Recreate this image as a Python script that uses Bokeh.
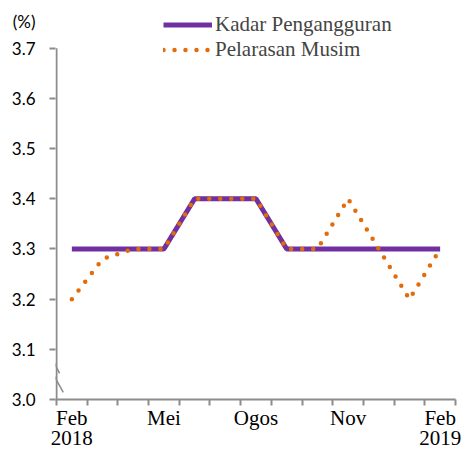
from bokeh.plotting import figure
from bokeh.models import FixedTicker, Range1d, Legend, LegendItem, Arrow
from bokeh.embed import file_html
from bokeh.resources import INLINE

months = ["Feb 2018", "Mac", "Apr", "Mei", "Jun", "Jul", "Ogos", "Sep", "Okt", "Nov", "Dis", "Jan", "Feb 2019"]
kadar = [3.3, 3.3, 3.3, 3.3, 3.4, 3.4, 3.4, 3.3, 3.3, 3.3, 3.3, 3.3, 3.3]
pelarasan = [3.2, 3.28, 3.3, 3.3, 3.4, 3.4, 3.4, 3.3, 3.3, 3.4, 3.3, 3.2, 3.3]
x_label_pos = [0, 3, 6, 9, 12]
x_label_text = ["Feb\n2018", "Mei", "Ogos", "Nov", "Feb\n2019"]
y_ticks = [3.0, 3.1, 3.2, 3.3, 3.4, 3.5, 3.6, 3.7]
unit_label = "(%)"

xs = list(range(len(months)))
SERIF = "Liberation Serif"
SANS = "Lato"
PURPLE = "#7030A0"
ORANGE = "#E36C0A"
GRAY = "#8C8C8C"

# layout (pixels)
W, H = 465, 452
LEFT, RIGHT, BOTTOM = 55, 10, 51
Y_TOP_PX = 48          # pixel row of the top tick
frame_h = H - BOTTOM
px_per_unit = (frame_h - Y_TOP_PX) / (y_ticks[-1] - y_ticks[0])
y_end = y_ticks[0] + frame_h / px_per_unit
frame_w = W - LEFT - RIGHT
x_end = len(months) - 0.5
x_start = x_end - (len(months)) * frame_w / (frame_w - 1)
unit_pos = y_ticks[0] + (frame_h - 21) / px_per_unit

p = figure(width=W, height=H, output_backend="svg", toolbar_location=None,
           x_range=Range1d(x_start, x_end), y_range=Range1d(y_ticks[0], y_end),
           min_border_left=LEFT, min_border_right=RIGHT, min_border_top=0, min_border_bottom=BOTTOM)
p.outline_line_color = None
p.grid.grid_line_color = None
p.background_fill_color = "white"

# y axis rule (only up to the top tick)
p.segment(x0=[-0.5], y0=[y_ticks[0]], x1=[-0.5], y1=[y_ticks[-1]], line_color=GRAY, line_width=2)

r1 = p.line(xs, kadar, line_color=PURPLE, line_width=5)
r2 = p.line(xs, pelarasan, line_color=ORANGE, line_width=4.5, line_dash="0 11", line_cap="round")

# x axis
xa = p.xaxis[0]
xa.ticker = FixedTicker(ticks=x_label_pos, minor_ticks=[i - 0.5 for i in range(len(months) + 1)])
xa.major_label_overrides = {k: v for k, v in zip(x_label_pos, x_label_text)}
xa.major_tick_in = 0
xa.major_tick_out = 0
xa.minor_tick_in = 0
xa.minor_tick_out = 6
xa.minor_tick_line_color = GRAY
xa.minor_tick_line_width = 2
xa.axis_line_color = GRAY
xa.axis_line_width = 2
xa.major_label_text_font = SERIF
xa.major_label_text_font_size = "21px"
xa.major_label_text_line_height = 0.85
xa.major_label_text_color = "black"
xa.major_label_standoff = 0

# y axis
ya = p.yaxis[0]
ya.ticker = FixedTicker(ticks=y_ticks + [unit_pos], minor_ticks=y_ticks)
overrides = {t: f"{t:.1f}" for t in y_ticks}
overrides[unit_pos] = unit_label
ya.major_label_overrides = overrides
ya.major_tick_in = 0
ya.major_tick_out = 0
ya.minor_tick_in = 0
ya.minor_tick_out = 6
ya.minor_tick_line_color = GRAY
ya.minor_tick_line_width = 2
ya.axis_line_color = None
ya.major_label_text_font = SANS
ya.major_label_text_font_size = "17px"
ya.major_label_text_color = "black"
ya.major_label_standoff = 14

# axis break marks
for (x0, y0, x1, y1) in [(-0.62, 3.079, -0.40, 3.052), (-0.62, 3.052, -0.28, 3.014)]:
    p.add_layout(Arrow(end=None, x_start=x0, y_start=y0, x_end=x1, y_end=y1,
                       line_color=GRAY, line_width=1.5))

legend = Legend(items=[LegendItem(label="Kadar Pengangguran", renderers=[r1]),
                       LegendItem(label="Pelarasan Musim", renderers=[r2])],
                location=(108, 337), orientation="vertical",
                glyph_width=49, glyph_height=21, label_height=21, spacing=0,
                padding=0, margin=0, label_standoff=3,
                label_text_font=SERIF, label_text_font_size="21px",
                label_text_line_height=0.7,
                border_line_color=None, background_fill_alpha=0)
p.add_layout(legend, "center")

open("out.html", "w").write(file_html(p, INLINE))
